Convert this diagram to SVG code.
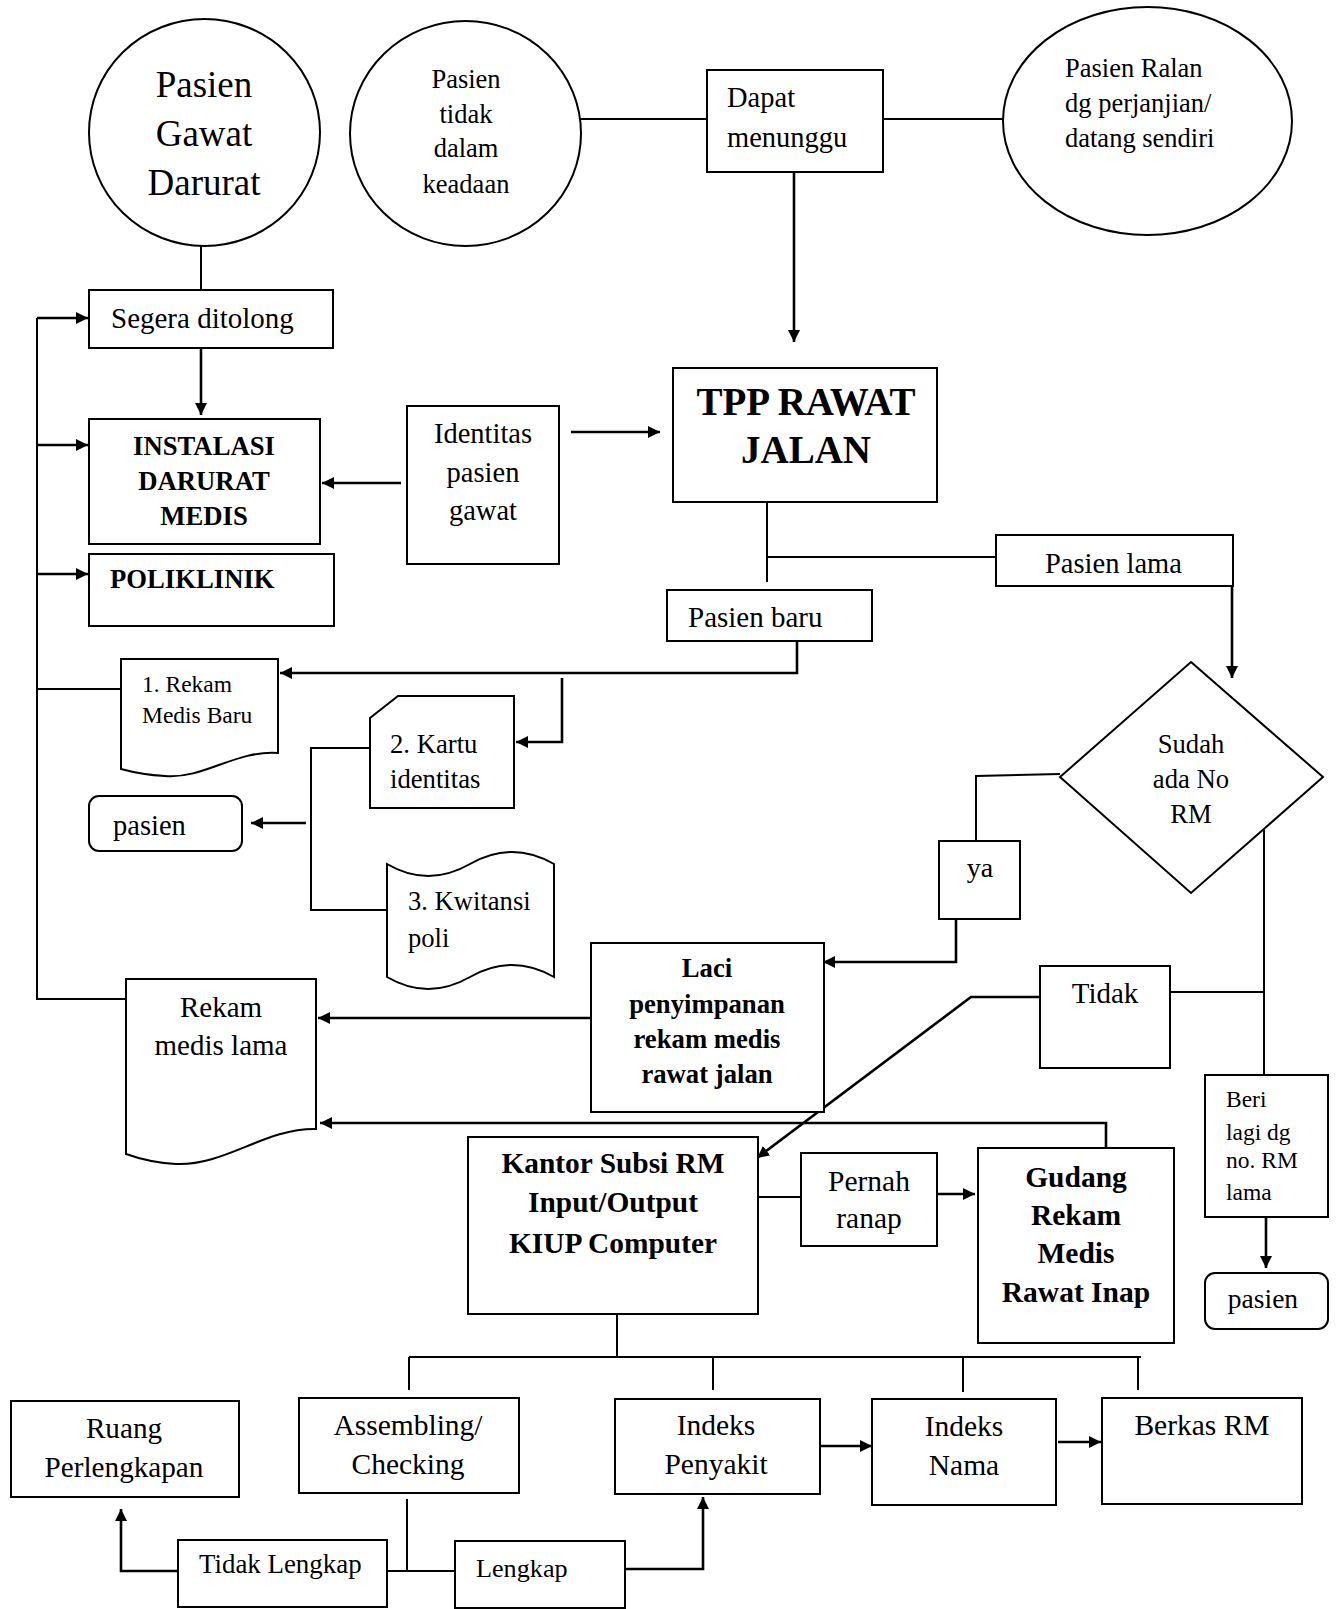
<svg xmlns="http://www.w3.org/2000/svg" width="1340" height="1609" viewBox="0 0 1340 1609">
<style>
text{font-family:"Liberation Serif","Times New Roman",serif;fill:#000}
.b{font-weight:bold}
.m{text-anchor:middle}
.box{fill:#fff;stroke:#000;stroke-width:2}
.ln{fill:none;stroke:#000;stroke-width:2}
.ar{fill:none;stroke:#000;stroke-width:2.6;marker-end:url(#ah)}
</style>
<defs>
<marker id="ah" markerUnits="userSpaceOnUse" markerWidth="14" markerHeight="14" refX="12" refY="6" orient="auto">
<path d="M0,0 L12,6 L0,12 Z" fill="#000"/>
</marker>
</defs>
<rect width="1340" height="1609" fill="#fff"/>

<g id="connectors">
<line class="ln" x1="201" y1="246" x2="201" y2="290"/>
<line class="ln" x1="581" y1="119" x2="707" y2="119"/>
<line class="ln" x1="883" y1="119" x2="1003" y2="119"/>
<line class="ar" x1="794" y1="172" x2="794" y2="342"/>
<line class="ar" x1="201" y1="348" x2="201" y2="415"/>
<polyline class="ln" points="37,318 37,999 126,999"/>
<line class="ar" x1="37" y1="318" x2="88" y2="318"/>
<line class="ar" x1="37" y1="445" x2="88" y2="445"/>
<line class="ar" x1="37" y1="574" x2="88" y2="574"/>
<line class="ln" x1="37" y1="689" x2="121" y2="689"/>
<line class="ar" x1="401" y1="483" x2="322" y2="483"/>
<line class="ar" x1="571" y1="432" x2="660" y2="432"/>
<line class="ln" x1="767" y1="502" x2="767" y2="582"/>
<line class="ln" x1="767" y1="557" x2="996" y2="557"/>
<polyline class="ar" points="1232,586 1232,678"/>
<polyline class="ar" points="797,642 797,673 280,673"/>
<polyline class="ar" points="562,678 562,742 516,742"/>
<polyline class="ln" points="370,748 311,748 311,910 387,910"/>
<line class="ar" x1="306" y1="823" x2="251" y2="823"/>
<polyline class="ln" points="1060,774 976,776 976,841"/>
<polyline class="ar" points="956,918 956,962 823,962"/>
<line class="ln" x1="1264" y1="830" x2="1264" y2="1075"/>
<line class="ln" x1="1170" y1="992" x2="1264" y2="992"/>
<polyline class="ar" points="1040,997 971,997 757,1158"/>
<polyline class="ar" points="1106,1148 1106,1123 320,1123"/>
<line class="ar" x1="591" y1="1018" x2="318" y2="1018"/>
<line class="ln" x1="758" y1="1197" x2="801" y2="1197"/>
<line class="ar" x1="937" y1="1194" x2="975" y2="1194"/>
<line class="ar" x1="1266" y1="1217" x2="1266" y2="1268"/>
<line class="ln" x1="617" y1="1314" x2="617" y2="1357"/>
<line class="ln" x1="409" y1="1357" x2="1141" y2="1357"/>
<line class="ln" x1="409" y1="1357" x2="409" y2="1390"/>
<line class="ln" x1="713" y1="1357" x2="713" y2="1390"/>
<line class="ln" x1="963" y1="1357" x2="963" y2="1392"/>
<line class="ln" x1="1138" y1="1357" x2="1138" y2="1390"/>
<line class="ar" x1="820" y1="1446" x2="872" y2="1446"/>
<line class="ar" x1="1058" y1="1442" x2="1101" y2="1442"/>
<line class="ln" x1="407" y1="1499" x2="407" y2="1571"/>
<polyline class="ar" points="178,1571 121,1571 121,1509"/>
<line class="ln" x1="387" y1="1571" x2="455" y2="1571"/>
<polyline class="ar" points="625,1569 703,1569 703,1497"/>
</g>

<g id="pasien-gawat-darurat">
<ellipse class="box" cx="204.5" cy="132.5" rx="115.5" ry="113.5"/>
<text class="m" x="204" y="97" font-size="37">Pasien</text>
<text class="m" x="204" y="146" font-size="37">Gawat</text>
<text class="m" x="204" y="195" font-size="37">Darurat</text>
</g>

<g id="pasien-tidak-dalam-keadaan">
<ellipse class="box" cx="465.5" cy="133.5" rx="115.5" ry="112.5"/>
<text class="m" x="466" y="88" font-size="26.5">Pasien</text>
<text class="m" x="466" y="123" font-size="26.5">tidak</text>
<text class="m" x="466" y="157" font-size="26.5">dalam</text>
<text class="m" x="466" y="193" font-size="26.5">keadaan</text>
</g>

<g id="dapat-menunggu">
<rect class="box" x="707" y="70" width="176" height="102"/>
<text x="727" y="107" font-size="28.5">Dapat</text>
<text x="727" y="147" font-size="28.5">menunggu</text>
</g>

<g id="pasien-ralan">
<ellipse class="box" cx="1147.5" cy="121" rx="144.5" ry="114"/>
<text x="1065" y="77" font-size="26.5">Pasien Ralan</text>
<text x="1065" y="112" font-size="26.5">dg perjanjian/</text>
<text x="1065" y="147" font-size="26.5">datang sendiri</text>
</g>

<g id="segera-ditolong">
<rect class="box" x="89" y="290" width="244" height="58"/>
<text x="111" y="328" font-size="29">Segera ditolong</text>
</g>

<g id="instalasi-darurat-medis">
<rect class="box" x="89" y="419" width="231" height="125"/>
<text class="m b" x="204" y="455" font-size="26.7">INSTALASI</text>
<text class="m b" x="204" y="490" font-size="26.7">DARURAT</text>
<text class="m b" x="204" y="525" font-size="26.7">MEDIS</text>
</g>

<g id="identitas-pasien-gawat">
<rect class="box" x="407" y="406" width="152" height="158"/>
<text class="m" x="483" y="443" font-size="28.5">Identitas</text>
<text class="m" x="483" y="482" font-size="28.5">pasien</text>
<text class="m" x="483" y="520" font-size="28.5">gawat</text>
</g>

<g id="tpp-rawat-jalan">
<rect class="box" x="673" y="368" width="264" height="134"/>
<text class="m b" x="806" y="415" font-size="39">TPP RAWAT</text>
<text class="m b" x="806" y="463" font-size="39">JALAN</text>
</g>

<g id="poliklinik">
<rect class="box" x="89" y="554" width="245" height="72"/>
<text class="b" x="110" y="588" font-size="26.7">POLIKLINIK</text>
</g>

<g id="pasien-lama">
<rect class="box" x="996" y="535" width="237" height="51"/>
<text x="1045" y="573" font-size="28.5">Pasien lama</text>
</g>

<g id="pasien-baru">
<rect class="box" x="667" y="590" width="205" height="51"/>
<text x="688" y="627" font-size="29">Pasien baru</text>
</g>

<g id="rekam-medis-baru">
<path class="box" d="M121,659 H278 V753 C235,750 205,779 165,776 C146,775 132,772 121,769 Z"/>
<text x="142" y="692" font-size="23.5">1. Rekam</text>
<text x="142" y="723" font-size="23.5">Medis Baru</text>
</g>

<g id="kartu-identitas">
<path class="box" d="M398,696 H514 V808 H370 V718 Z"/>
<text x="390" y="753" font-size="26.7">2. Kartu</text>
<text x="390" y="788" font-size="26.7">identitas</text>
</g>

<g id="pasien-1">
<rect class="box" x="89" y="796" width="153" height="55" rx="10"/>
<text x="113" y="835" font-size="28.5">pasien</text>
</g>

<g id="kwitansi-poli">
<path class="box" d="M387,864 Q428,888 470,864 Q512,840 554,864 V977 Q512,953 470,977 Q428,1001 387,977 Z"/>
<text x="408" y="910" font-size="26.6">3. Kwitansi</text>
<text x="408" y="947" font-size="26.6">poli</text>
</g>

<g id="sudah-ada-no-rm">
<path class="box" d="M1191,662 L1323,777 L1191,893 L1060,777 Z"/>
<text class="m" x="1191" y="753" font-size="26.7">Sudah</text>
<text class="m" x="1191" y="788" font-size="26.7">ada No</text>
<text class="m" x="1191" y="823" font-size="26.7">RM</text>
</g>

<g id="ya">
<rect class="box" x="939" y="841" width="81" height="78"/>
<text class="m" x="980" y="877" font-size="28">ya</text>
</g>

<g id="laci">
<rect class="box" x="591" y="943" width="233" height="169"/>
<text class="m b" x="707" y="977" font-size="26.7">Laci</text>
<text class="m b" x="707" y="1013" font-size="26.7">penyimpanan</text>
<text class="m b" x="707" y="1048" font-size="26.7">rekam medis</text>
<text class="m b" x="707" y="1083" font-size="26.7">rawat jalan</text>
</g>

<g id="tidak">
<rect class="box" x="1040" y="966" width="130" height="102"/>
<text class="m" x="1105" y="1003" font-size="29">Tidak</text>
</g>

<g id="rekam-medis-lama">
<path class="box" d="M126,979 H316 V1129 C265,1128 225,1166 176,1164 C155,1163 140,1159 126,1154 Z"/>
<text class="m" x="221" y="1017" font-size="29">Rekam</text>
<text class="m" x="221" y="1055" font-size="29">medis lama</text>
</g>

<g id="beri-lagi">
<rect class="box" x="1205" y="1075" width="123" height="142"/>
<text x="1226" y="1107" font-size="23.5">Beri</text>
<text x="1226" y="1140" font-size="23.5">lagi dg</text>
<text x="1226" y="1168" font-size="23.5">no. RM</text>
<text x="1226" y="1200" font-size="23.5">lama</text>
</g>

<g id="kantor-subsi-rm">
<rect class="box" x="468" y="1137" width="290" height="177"/>
<text class="m b" x="613" y="1173" font-size="29.4">Kantor Subsi RM</text>
<text class="m b" x="613" y="1212" font-size="29.4">Input/Output</text>
<text class="m b" x="613" y="1253" font-size="29.4">KIUP Computer</text>
</g>

<g id="pernah-ranap">
<rect class="box" x="801" y="1153" width="136" height="93"/>
<text class="m" x="869" y="1191" font-size="29.5">Pernah</text>
<text class="m" x="869" y="1228" font-size="29.5">ranap</text>
</g>

<g id="gudang-rekam-medis">
<rect class="box" x="978" y="1148" width="196" height="195"/>
<text class="m b" x="1076" y="1187" font-size="29.5">Gudang</text>
<text class="m b" x="1076" y="1225" font-size="29.5">Rekam</text>
<text class="m b" x="1076" y="1263" font-size="29.5">Medis</text>
<text class="m b" x="1076" y="1302" font-size="29.5">Rawat Inap</text>
</g>

<g id="pasien-2">
<rect class="box" x="1205" y="1273" width="123" height="56" rx="10"/>
<text class="m" x="1263" y="1308" font-size="27.5">pasien</text>
</g>

<g id="ruang-perlengkapan">
<rect class="box" x="11" y="1401" width="228" height="96"/>
<text class="m" x="124" y="1438" font-size="29.2">Ruang</text>
<text class="m" x="124" y="1477" font-size="29.2">Perlengkapan</text>
</g>

<g id="assembling-checking">
<rect class="box" x="299" y="1398" width="220" height="95"/>
<text class="m" x="408" y="1435" font-size="29.5">Assembling/</text>
<text class="m" x="408" y="1474" font-size="29.5">Checking</text>
</g>

<g id="indeks-penyakit">
<rect class="box" x="615" y="1399" width="205" height="95"/>
<text class="m" x="716" y="1435" font-size="29.5">Indeks</text>
<text class="m" x="716" y="1474" font-size="29.5">Penyakit</text>
</g>

<g id="indeks-nama">
<rect class="box" x="872" y="1399" width="184" height="106"/>
<text class="m" x="964" y="1436" font-size="29.5">Indeks</text>
<text class="m" x="964" y="1475" font-size="29.5">Nama</text>
</g>

<g id="berkas-rm">
<rect class="box" x="1102" y="1398" width="200" height="106"/>
<text class="m" x="1202" y="1435" font-size="29.5">Berkas RM</text>
</g>

<g id="tidak-lengkap">
<rect class="box" x="178" y="1540" width="209" height="67"/>
<text x="199" y="1573" font-size="26.9">Tidak Lengkap</text>
</g>

<g id="lengkap">
<rect class="box" x="455" y="1541" width="170" height="67"/>
<text x="476" y="1577" font-size="26.2">Lengkap</text>
</g>
</svg>
